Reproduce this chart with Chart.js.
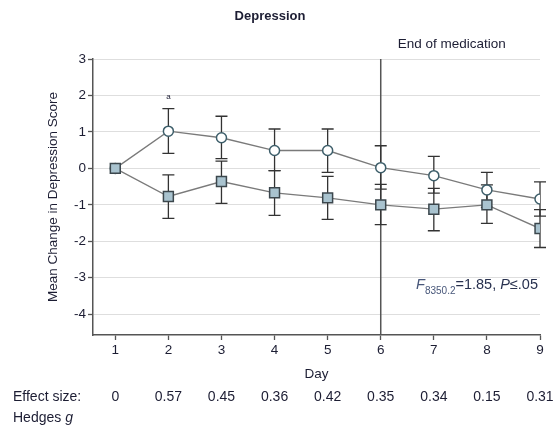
<!DOCTYPE html>
<html>
<head>
<meta charset="utf-8">
<script src="https://cdn.jsdelivr.net/npm/chart.js@4.4.0/dist/chart.umd.min.js"></script>
<style>
  html, body { margin: 0; padding: 0; background: #fff; }
</style>
</head>
<body>
<canvas id="depChart" width="553" height="427"></canvas>
<script>
// days and tick values
var days = [1, 2, 3, 4, 5, 6, 7, 8, 9];
var yTicks = [-4, -3, -2, -1, 0, 1, 2, 3];
var medicationEndDay = 6;

// open circles
var circleMean  = [0, 1.02, 0.84, 0.49, 0.49, 0.02, -0.20, -0.59, -0.84];
var circleHigh  = [0, 1.64, 1.43, 1.08, 1.08, 0.62, 0.33, -0.11, -0.37];
var circleLow   = [0, 0.41, 0.27, -0.06, -0.11, -0.57, -0.68, -1.07, -1.31];

// filled squares
var squareMean  = [0, -0.77, -0.36, -0.67, -0.81, -1.00, -1.12, -1.00, -1.65];
var squareHigh  = [0, -0.18, 0.20, -0.06, -0.22, -0.44, -0.55, -0.45, -1.13];
var squareLow   = [0, -1.37, -0.96, -1.29, -1.40, -1.54, -1.71, -1.51, -2.17];

// Hedges g per day
var effectSizes = ['0', '0.57', '0.45', '0.36', '0.42', '0.35', '0.34', '0.15', '0.31'];

var textColor = '#1c1d33';
var fontFamily = '"Liberation Sans", Arial, sans-serif';

function points(vals) {
    return days.map(function(d, i) { return { x: d, y: vals[i] }; });
}

var extras = {
    id: 'extras',
    beforeDatasetsDraw: function(chart) {
        var ctx = chart.ctx, xs = chart.scales.x, ys = chart.scales.y, area = chart.chartArea;
        ctx.save();
        // end of medication
        var x6 = xs.getPixelForValue(medicationEndDay);
        ctx.strokeStyle = '#555';
        ctx.lineWidth = 1.5;
        ctx.beginPath();
        ctx.moveTo(x6, area.top);
        ctx.lineTo(x6, area.bottom);
        ctx.stroke();

        // error bars
        ctx.strokeStyle = '#333';
        ctx.lineWidth = 1.3;
        [[circleLow, circleHigh], [squareLow, squareHigh]].forEach(function(pair) {
            days.forEach(function(d, i) {
                if (pair[0][i] === pair[1][i]) return;
                var x = xs.getPixelForValue(d);
                var y1 = ys.getPixelForValue(pair[0][i]);
                var y2 = ys.getPixelForValue(pair[1][i]);
                ctx.beginPath();
                ctx.moveTo(x, y1); ctx.lineTo(x, y2);
                ctx.moveTo(x - 6, y1); ctx.lineTo(x + 6, y1);
                ctx.moveTo(x - 6, y2); ctx.lineTo(x + 6, y2);
                ctx.stroke();
            });
        });
        ctx.restore();
    },
    afterDraw: function(chart) {
        var ctx = chart.ctx, xs = chart.scales.x, ys = chart.scales.y, area = chart.chartArea;
        ctx.save();
        ctx.fillStyle = textColor;
        ctx.textBaseline = 'middle';

        // label over the vertical line
        ctx.font = '13.5px ' + fontFamily;
        ctx.textAlign = 'left';
        ctx.fillText('End of medication', xs.getPixelForValue(medicationEndDay) + 17, area.top - 15);

        // significance mark
        ctx.font = '8px ' + fontFamily;
        ctx.textAlign = 'center';
        ctx.fillText('a', xs.getPixelForValue(2), ys.getPixelForValue(circleHigh[1]) - 12);

        // F statistic
        var parts = [
            { t: 'F', f: 'italic 14.5px ', dy: 0, c: '#48577a' },
            { t: '8350.2', f: '10px ', dy: 5, c: '#48577a' },
            { t: '=1.85, ', f: '14.5px ', dy: 0, c: '#28314f' },
            { t: 'P', f: 'italic 14.5px ', dy: 0, c: '#28314f' },
            { t: '\u2264.05', f: '14.5px ', dy: 0, c: '#28314f' }
        ];
        var total = 0;
        parts.forEach(function(p) { ctx.font = p.f + fontFamily; p.w = ctx.measureText(p.t).width; total += p.w; });
        var fx = area.right - 2 - total;
        var fy = ys.getPixelForValue(-3.3);
        ctx.textAlign = 'left';
        ctx.textBaseline = 'alphabetic';
        parts.forEach(function(p) {
            ctx.font = p.f + fontFamily;
            ctx.fillStyle = p.c;
            ctx.fillText(p.t, fx, fy + p.dy);
            fx += p.w;
        });

        // effect size row
        ctx.fillStyle = textColor;
        ctx.textBaseline = 'middle';
        ctx.font = '14px ' + fontFamily;
        ctx.textAlign = 'left';
        ctx.fillText('Effect size:', 13, 397);
        ctx.textAlign = 'center';
        days.forEach(function(d, i) {
            ctx.fillText(effectSizes[i], xs.getPixelForValue(d), 397);
        });
        ctx.textAlign = 'left';
        ctx.fillText('Hedges ', 13, 418);
        var hw = ctx.measureText('Hedges ').width;
        ctx.font = 'italic 14px ' + fontFamily;
        ctx.fillText('g', 13 + hw, 418);
        ctx.restore();
    }
};

var depChart = new Chart(document.getElementById('depChart'), {
    type: 'line',
    data: {
        datasets: [{
            data: points(squareMean),
            borderColor: '#7a7a7a',
            borderWidth: 1.3,
            pointStyle: 'rect',
            pointRadius: 7,
            pointBackgroundColor: '#a9c3cf',
            pointBorderColor: '#3c474d',
            pointBorderWidth: 1.5
        }, {
            data: points(circleMean),
            borderColor: '#7a7a7a',
            borderWidth: 1.3,
            pointStyle: 'circle',
            pointRadius: 5,
            pointBackgroundColor: '#ffffff',
            pointBorderColor: '#3d5e6a',
            pointBorderWidth: 1.5
        }]
    },
    options: {
        responsive: false,
        animation: false,
        layout: { padding: { left: 0, right: 13, top: 0, bottom: 45 } },
        plugins: {
            legend: { display: false },
            tooltip: { enabled: false },
            title: {
                display: true,
                text: 'Depression',
                color: textColor,
                font: { family: fontFamily, size: 13, weight: 'bold' },
                padding: { top: 9, bottom: 34.4 }
            }
        },
        scales: {
            x: {
                type: 'linear',
                min: 0.58,
                max: 9,
                afterBuildTicks: function(axis) { axis.ticks = days.map(function(v) { return { value: v }; }); },
                afterFit: function(axis) { axis.height = 47; },
                grid: { drawOnChartArea: false, tickLength: 5, tickColor: '#555', tickWidth: 1.3 },
                border: { color: '#555', width: 1.5 },
                ticks: { color: textColor, padding: 2, font: { family: fontFamily, size: 13.5 }, maxRotation: 0 },
                title: { display: true, text: 'Day', color: textColor, padding: { top: 0, bottom: 0 }, font: { family: fontFamily, size: 13.5 } }
            },
            y: {
                min: -4.57,
                max: 3,
                afterBuildTicks: function(axis) { axis.ticks = yTicks.map(function(v) { return { value: v }; }); },
                afterFit: function(axis) { axis.width = 93; },
                grid: { color: '#dedede', lineWidth: 1, tickLength: 5, tickColor: '#555', tickWidth: 1.3 },
                border: { color: '#555', width: 1.5 },
                ticks: { color: textColor, padding: 2, font: { family: fontFamily, size: 13.5 } },
                title: { display: true, text: 'Mean Change in Depression Score', color: textColor, padding: { top: 45, bottom: 0 }, font: { family: fontFamily, size: 13.5 } }
            }
        }
    },
    plugins: [extras]
});
</script>
</body>
</html>
